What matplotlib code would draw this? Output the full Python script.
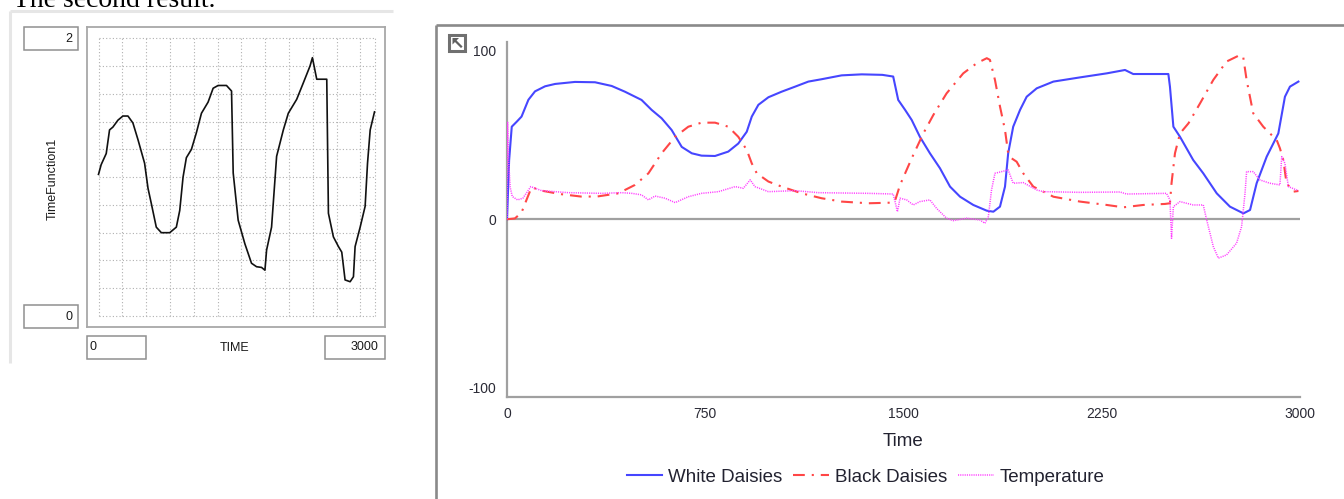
import matplotlib
matplotlib.use("Agg")
import matplotlib.pyplot as plt
from matplotlib.lines import Line2D
from matplotlib.patches import Rectangle, Polygon

plt.rcParams['lines.scale_dashes'] = False
plt.rcParams['font.family'] = ['Liberation Sans', 'DejaVu Sans']

# ---- TimeFunction1 (left graph) ----
tf_time = [0, 29, 84, 120, 156, 211, 265, 320, 374, 429, 501, 538, 574, 628, 683,
           774, 846, 883, 919, 955, 1010, 1064, 1119, 1191, 1246, 1300, 1391, 1446,
           1464, 1518, 1591, 1663, 1718, 1772, 1809, 1827, 1881, 1936, 2009, 2063,
           2154, 2227, 2299, 2325, 2372, 2481, 2499, 2553, 2608, 2644, 2680, 2735,
           2771, 2789, 2844, 2898, 2924, 2953, 3000]
tf_value = [1.02, 1.09, 1.17, 1.34, 1.36, 1.41, 1.44, 1.44, 1.39, 1.27, 1.10, 0.92,
            0.81, 0.64, 0.60, 0.60, 0.64, 0.76, 1.00, 1.14, 1.20, 1.32, 1.46, 1.54,
            1.64, 1.66, 1.66, 1.62, 1.03, 0.69, 0.52, 0.38, 0.355, 0.35, 0.33, 0.475,
            0.64, 1.15, 1.34, 1.46, 1.56, 1.68, 1.80, 1.86, 1.705, 1.705, 0.74, 0.57,
            0.50, 0.46, 0.26, 0.247, 0.283, 0.50, 0.64, 0.79, 1.10, 1.34, 1.47]

# ---- Daisyworld run (right graph) ----
white_time = [0, 8, 18, 37, 55, 81, 106, 144, 182, 257, 333, 396, 446, 509, 547,
              585, 623, 661, 699, 736, 787, 837, 875, 907, 926, 951, 989, 1039,
              1090, 1140, 1190, 1266, 1342, 1420, 1461, 1480, 1506, 1531, 1562,
              1600, 1638, 1676, 1714, 1764, 1815, 1840, 1865, 1884, 1896, 1915,
              1941, 1966, 2004, 2067, 2168, 2269, 2338, 2369, 2502, 2508, 2521,
              2546, 2596, 2634, 2685, 2735, 2786, 2811, 2836, 2874, 2918, 2943,
              2962, 2994]
white_daisies = [0, 35, 55, 58, 61, 71, 76, 79, 80.4, 81.6, 81.4, 79.2, 75.8, 70.9,
                 65, 60, 53, 43, 39.2, 37.8, 37.6, 40.2, 45, 52, 61, 68, 72.5, 75.8,
                 78.8, 81.8, 83.2, 85.5, 86.1, 85.8, 84.8, 70.9, 65, 59, 49, 39.2,
                 30.3, 19.4, 13.4, 8.5, 5.1, 4.5, 7.5, 19.4, 39.2, 55, 65, 72.8,
                 77.8, 81.8, 84.3, 86.7, 88.7, 86.3, 86.3, 78.8, 55, 49, 35.2, 27.3,
                 15.4, 7.5, 3.5, 5.5, 21.4, 37.2, 51, 72.8, 78.8, 81.8]

black_time = [0, 30, 55, 75, 93, 131, 200, 280, 340, 421, 484, 535, 585, 636, 686,
              736, 787, 837, 875, 907, 926, 945, 989, 1039, 1115, 1190, 1266, 1367,
              1461, 1470, 1487, 1531, 1575, 1613, 1663, 1726, 1777, 1815, 1827, 1846,
              1865, 1884, 1896, 1909, 1928, 1953, 1991, 2067, 2168, 2269, 2332, 2407,
              2489, 2508, 2514, 2527, 2546, 2578, 2622, 2672, 2722, 2773, 2785, 2798,
              2823, 2861, 2912, 2924, 2937, 2949, 2975, 2994]
black_daisies = [0, 0.5, 4, 12, 19, 17, 15, 13.5, 13.5, 15.4, 20.4, 27.3, 39.2, 49,
                 55, 57.4, 57.4, 55, 49, 41.2, 33.2, 27.3, 22.4, 19.4, 15.4, 12.5,
                 10.5, 9.5, 9.9, 12, 20.4, 36.2, 51, 62, 74.8, 86.7, 92.7, 95.7, 94.7,
                 82.8, 67, 53, 39.2, 36.2, 34.2, 27.3, 19.4, 13.4, 10.5, 8.5, 7.1,
                 8.5, 9.1, 9.5, 21.4, 39.2, 51, 57, 68.9, 82.8, 93.7, 97.6, 96.6,
                 82.8, 63, 55, 47, 42.2, 35.2, 21.4, 16.4, 16.8]

temp_time = [0, 2, 6, 12, 20, 40, 60, 90, 131, 232, 358, 434, 472, 509, 535, 560,
             598, 636, 686, 736, 800, 863, 894, 920, 938, 989, 1090, 1178, 1367,
             1461, 1468, 1477, 1487, 1512, 1537, 1562, 1600, 1625, 1663, 1688, 1739,
             1789, 1808, 1821, 1833, 1846, 1896, 1915, 1953, 2004, 2029, 2168, 2319,
             2344, 2495, 2508, 2514, 2521, 2546, 2596, 2634, 2647, 2672, 2691, 2722,
             2760, 2779, 2792, 2798, 2823, 2848, 2886, 2924, 2931, 2943, 2956, 2994]
temperature = [0, 58, 35, 19, 13.5, 11.5, 12.5, 19.4, 17, 15.8, 15.4, 15.8, 15.4,
               14.5, 11.5, 13.8, 12.5, 9.9, 13.4, 15.4, 16.4, 19.4, 18.4, 23.4, 19.4,
               16.4, 17, 15.8, 15.4, 15, 10.5, 4.5, 12.5, 11.5, 8.5, 10.5, 11.5, 6.5,
               0.6, -0.8, 0.6, -0.4, -2.4, 1.6, 17.4, 27.3, 29.3, 21.4, 21.8, 17.4,
               16.4, 16, 16.2, 15, 15.4, 11.5, -11.3, 7.5, 10.5, 8.5, 8.5, -0.4,
               -16.2, -23.1, -21.2, -14.2, -4.4, 15.4, 28.3, 28.3, 23.4, 21.4, 20.4,
               37.2, 33.2, 19.4, 17]

x_ticks = [0, 750, 1500, 2250, 3000]
y_ticks = [-100, 0, 100]
series_names = ["White Daisies", "Black Daisies", "Temperature"]

W, H = 1344, 499
fig = plt.figure(figsize=(W / 100, H / 100), dpi=100)
fig.patch.set_facecolor('white')


def fx(x):
    return x / W


def fy(y):
    return 1 - y / H


def fig_line(xs, ys, **kw):
    fig.add_artist(Line2D([fx(v) for v in xs], [fy(v) for v in ys],
                          transform=fig.transFigure, **kw))


def fig_box(x0, y0, x1, y1, **kw):
    fig.add_artist(Rectangle((fx(x0), fy(y1)), fx(x1) - fx(x0), fy(y0) - fy(y1),
                             transform=fig.transFigure, **kw))


# heading above the left panel
fig.text(fx(13), fy(7), "The second result.", family='Liberation Serif',
         fontsize=20, ha='left', va='baseline', color='black')

# left panel frame
fig_line([10, 10], [363, 11], color='#e6e6e6', lw=2.2, solid_capstyle='butt')
fig_line([10, 393], [11, 11], color='#e6e6e6', lw=2.2, solid_capstyle='butt')

# ---- left graph ----
ax1 = fig.add_axes([fx(87), fy(327), fx(385) - fx(87), fy(27) - fy(327)])
ax1.set_xlim(-125, 3114)
ax1.set_ylim(-0.079, 2.081)
for s in ax1.spines.values():
    s.set_color('#a8a8a8')
    s.set_linewidth(1.3)
ax1.set_xticks([])
ax1.set_yticks([])
grid_kw = dict(color='#b0b0b0', lw=0.8, linestyle=(0, (0.8, 1.6)))
step_t = 258.7
xs_grid = [k * step_t for k in range(12)] + [3000]
ax1.vlines(xs_grid, 0, 2, **grid_kw)
ax1.hlines([k * 0.2 for k in range(11)], 0, 3000, **grid_kw)
ax1.plot(tf_time, tf_value, color='#111111', lw=1.2)

small = dict(fontsize=9, color='#1a1a1a')
fig_box(24, 27, 78, 50, facecolor='white', edgecolor='#909090', lw=1.1)
fig.text(fx(72), fy(38.5), "2", ha='right', va='center', **small)
fig_box(24, 305, 78, 328, facecolor='white', edgecolor='#909090', lw=1.1)
fig.text(fx(72), fy(316.5), "0", ha='right', va='center', **small)
fig_box(87, 336, 146, 359, facecolor='white', edgecolor='#909090', lw=1.1)
fig.text(fx(89.5), fy(347.5), "0", ha='left', va='center', **small)
fig_box(325, 336, 385, 359, facecolor='white', edgecolor='#909090', lw=1.1)
fig.text(fx(378.5), fy(347.5), "3000", ha='right', va='center', **small)
fig.text(fx(235), fy(348), "TIME", ha='center', va='center', **small)
fig.text(fx(52.5), fy(179), "TimeFunction1", ha='center', va='center',
         rotation=90, **small)

# ---- right graph frame and icon ----
fig_line([436, 436], [25, 499], color='#8a8a8a', lw=1.9, solid_capstyle='butt')
fig_line([436, 1344], [25, 25], color='#8a8a8a', lw=1.9, solid_capstyle='butt')
fig_box(449, 34.5, 465, 51, facecolor='white', edgecolor='#707070', lw=2.2)
fig.add_artist(Polygon([(fx(452.5), fy(38)), (fx(459), fy(38)), (fx(452.5), fy(44.5))],
                       closed=True, transform=fig.transFigure,
                       facecolor='#606060', edgecolor='none'))
fig_line([454.5, 461], [40, 46.5], color='#606060', lw=1.6)

# ---- right graph ----
ax2 = fig.add_axes([fx(507), fy(397), fx(1300) - fx(507), fy(41.7) - fy(397)])
ax2.set_xlim(0, 3000)
ax2.set_ylim(-105.6, 105.5)
for side in ('top', 'right'):
    ax2.spines[side].set_visible(False)
for side in ('left', 'bottom'):
    ax2.spines[side].set_color('#a0a0a0')
    ax2.spines[side].set_linewidth(1.6)
ax2.axhline(0, color='#a0a0a0', lw=1.6, zorder=1)

ax2.set_xticks(x_ticks)
ax2.set_xticklabels([str(v) for v in x_ticks])
ax2.set_yticks(y_ticks)
ax2.set_yticklabels([str(v) for v in y_ticks])
ax2.tick_params(axis='both', length=0, labelsize=10, labelcolor='#2a2a35')
ax2.tick_params(axis='y', pad=7.5)
ax2.tick_params(axis='x', pad=7)

l_white, = ax2.plot(white_time, white_daisies, color='#4646ff', lw=1.5,
                    label=series_names[0], zorder=3)
l_black, = ax2.plot(black_time, black_daisies, color='#ff4646', lw=1.5,
                    linestyle=(0, (8.5, 5, 1.5, 5)), label=series_names[1], zorder=3)
l_temp, = ax2.plot(temp_time, temperature, color='#ff40ff', lw=1.1,
                   linestyle=(0, (0.8, 0.8)), label=series_names[2], zorder=3)

ax2.set_xlabel("Time", fontsize=13.5, color='#222230')
ax2.xaxis.set_label_coords(0.5, (397 - 442) / (397 - 41.7))
ax2.xaxis.label.set_va('center')

fig.legend(handles=[l_white, l_black, l_temp], loc='center',
           bbox_to_anchor=(fx(865.5), fy(477)), ncol=3, frameon=False,
           fontsize=13.5, handlelength=1.9, handletextpad=0.3,
           columnspacing=0.6, labelcolor='#222230')

fig.savefig("out.png", dpi=100, facecolor='white')
